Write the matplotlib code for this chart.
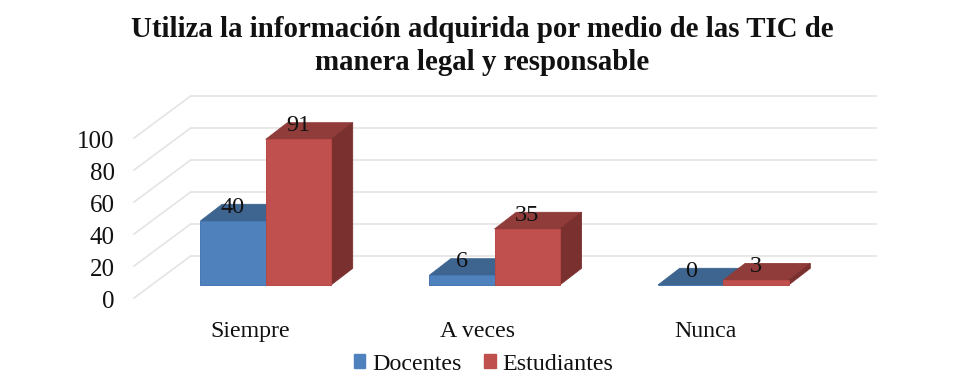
import matplotlib
matplotlib.use("Agg")
import matplotlib.pyplot as plt
from matplotlib.patches import Polygon, Patch

plt.rcParams['font.family'] = ['Liberation Serif', 'DejaVu Serif']

title = "Utiliza la información adquirida por medio de las TIC de\nmanera legal y responsable"
categories = ["Siempre", "A veces", "Nunca"]
series_names = ["Docentes", "Estudiantes"]
docentes = [40, 6, 0]
estudiantes = [91, 35, 3]
yticks = [0, 20, 40, 60, 80, 100]

W, H = 961, 386
PX_X = 228.8      # pixels per category
PX_Y = 1.6        # pixels per value unit
X0, Y0 = 265.7, 285.0   # pixel position of first category, value 0 (bar front)
BAR_W = 65.3 / PX_X
DX, DY = 21.7 / PX_X, 16.7 / PX_Y   # bar depth
WALL_LEFT, WALL_RIGHT = (190.7 - X0) / PX_X, (877 - X0) / PX_X
BACK0 = (285 - 256) / PX_Y * -1       # wall value-0 offset
FRONT_DX, FRONT_DY = 56.7 / PX_X, 42.0 / PX_Y

fig = plt.figure(figsize=(W / 100, H / 100), dpi=100)
ax = fig.add_axes([0, 0, 1, 1])
ax.set_xlim(-X0 / PX_X, (W - X0) / PX_X)
ax.set_ylim((Y0 - H) / PX_Y, Y0 / PX_Y)
ax.axis("off")

GRID = "#e4e4e4"
for v in yticks:
    yb = v - BACK0
    ax.plot([WALL_LEFT, WALL_RIGHT], [yb, yb], color=GRID, lw=1.2, zorder=1, solid_capstyle="butt")
    ax.plot([WALL_LEFT - FRONT_DX, WALL_LEFT], [yb - FRONT_DY, yb], color=GRID, lw=1.2, zorder=1)
    ax.text(WALL_LEFT - FRONT_DX - 19.5 / PX_X, yb - FRONT_DY - 1 / PX_Y, str(v), ha="right", va="center_baseline",
            fontsize=18, color="#111111")


def bar3d(x_left, value, front, top, side, edge, z):
    x_right = x_left + BAR_W
    ax.add_patch(Polygon([(x_left, value), (x_right, value), (x_right + DX, value + DY), (x_left + DX, value + DY)],
                         closed=True, fc=top, ec=top, lw=0.6, zorder=z))
    ax.add_patch(Polygon([(x_right, 0), (x_right + DX, DY), (x_right + DX, value + DY), (x_right, value)],
                         closed=True, fc=side, ec=side, lw=0.6, zorder=z))
    ax.add_patch(Polygon([(x_left, 0), (x_right, 0), (x_right, value), (x_left, value)],
                         closed=True, fc=front, ec=edge, lw=0.7, zorder=z + 0.1))


for i, (d, e) in enumerate(zip(docentes, estudiantes)):
    bar3d(i - BAR_W, d, "#4F81BD", "#3E6490", "#2F4F74", "#4477B5", 3 + i * 2)
    bar3d(i, e, "#C0504D", "#8F3C3A", "#7A302E", "#B84845", 4 + i * 2)
    ax.text(i - BAR_W / 2, d + DY * 0.5 + 5.5 / PX_Y, str(d), ha="center", va="center",
            fontsize=17.5, color="#111111", zorder=20)
    ax.text(i + BAR_W / 2, e + DY * 0.5 + 5.5 / PX_Y, str(e), ha="center", va="center",
            fontsize=17.5, color="#111111", zorder=20)
    ax.text(i - 16 / PX_X + (0 if i == 0 else -1.5 / PX_X), (Y0 - 331.5) / PX_Y, categories[i], ha="center", va="center",
            fontsize=17.2, color="#111111")

ax.text(482 / W, 1 - 46 / H, title, transform=ax.transAxes, ha="center", va="center",
        fontsize=20.8, fontweight="bold", color="#111111", linespacing=1.27)

handles = [Patch(fc="#4F81BD", ec="#4F81BD", label=series_names[0]),
           Patch(fc="#C0504D", ec="#C0504D", label=series_names[1])]
leg = ax.legend(handles=handles, ncol=2, frameon=False, fontsize=17.3, loc="center",
                bbox_to_anchor=(483.5 / W, 1 - 364 / H), handlelength=0.48, handleheight=0.5,
                handletextpad=0.28, columnspacing=0.95, labelcolor="#111111")

fig.savefig("out.png", dpi=100)
